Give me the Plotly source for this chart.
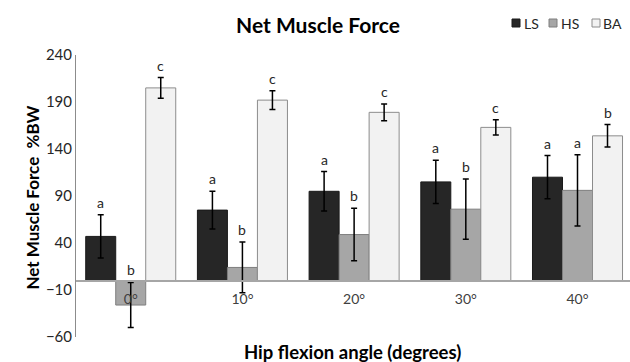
import plotly.graph_objects as go

categories = ["0°", "10°", "20°", "30°", "40°"]
series_names = ["LS", "HS", "BA"]
ls_values = [47, 75, 95, 105, 110]
ls_errors = [23, 20, 21, 23, 23]
hs_values = [-26, 14, 49, 76, 96]
hs_errors = [24, 27, 28, 32, 38]
ba_values = [205, 192, 179, 163, 154]
ba_errors = [11, 10, 9, 8, 12]
ls_letters = ["a", "a", "a", "a", "a"]
hs_letters = ["b", "b", "b", "b", "a"]
ba_letters = ["c", "c", "c", "c", "b"]
y_ticks = [-60, -10, 40, 90, 140, 190, 240]

FONT = "Lato"
W, H = 630, 362
L, R, T, B = 76, 0, 55, 25
PW, PH = W - L - R, H - T - B
fills = ["#262626", "#a6a6a6", "#f2f2f2"]
borders = ["#1a1a1a", "#7f7f7f", "#8c8c8c"]
values = [ls_values, hs_values, ba_values]
errors = [ls_errors, hs_errors, ba_errors]
letters = [ls_letters, hs_letters, ba_letters]


def px(x):
    return (x - L) / PW


def py(y):
    return (H - B - y) / PH


x_idx = list(range(len(categories)))
fig = go.Figure()
for k, name in enumerate(series_names):
    fig.add_trace(go.Bar(
        x=x_idx, y=values[k], name=name,
        marker=dict(color=fills[k], line=dict(color=borders[k], width=1)),
        error_y=dict(type="data", array=errors[k], visible=True,
                     color="#000000", thickness=1.5, width=3),
    ))

bar_w = 0.2686
offsets = [-bar_w, 0, bar_w]
for k in range(3):
    for i in x_idx:
        top = values[k][i] + errors[k][i]
        fig.add_annotation(x=i + offsets[k], y=top, xref="x", yref="y",
                           text=letters[k][i], showarrow=False,
                           yanchor="bottom", yshift=2,
                           font=dict(family=FONT, size=14, color="#262626"))

# manual legend (compact, like the reference)
leg_sq_x = [512, 549, 592]
leg_tx_x = [522, 559, 601]
for k, name in enumerate(series_names):
    fig.add_shape(type="rect", xref="paper", yref="paper",
                  x0=px(leg_sq_x[k]), x1=px(leg_sq_x[k] + 8),
                  y0=py(27), y1=py(19),
                  fillcolor=fills[k], line=dict(color=borders[k], width=1))
    fig.add_annotation(x=px(leg_tx_x[k]), y=py(23), xref="paper", yref="paper",
                       text=name, showarrow=False, xanchor="left", yanchor="middle",
                       font=dict(family=FONT, size=14, color="#262626"))

fig.add_annotation(x=px(352), y=py(352), xref="paper", yref="paper",
                   text="<b>Hip flexion angle (degrees)</b>", showarrow=False,
                   yanchor="middle", font=dict(family=FONT, size=18.5, color="#000000"))
fig.add_annotation(x=px(19), y=py(198), xref="paper", yref="paper",
                   text="<b>Net Muscle Force  %BW</b>", showarrow=False,
                   textangle=-90, font=dict(family=FONT, size=17, color="#000000"))

fig.update_layout(
    width=W, height=H,
    margin=dict(l=L, r=R, t=T, b=B, autoexpand=False),
    paper_bgcolor="white", plot_bgcolor="white",
    barmode="group", bargap=0.194, bargroupgap=0,
    title=dict(text="<b>Net Muscle Force</b>", x=318 / W, xref="container",
               y=1 - 26 / H, yref="container", xanchor="center", yanchor="middle",
               font=dict(family=FONT, size=21, color="#000000")),
    font=dict(family=FONT),
    showlegend=False,
)
fig.update_xaxes(type="linear", range=[-0.49, 4.47], tickvals=x_idx, ticktext=categories,
                 anchor="free", position=0.2, showline=True, linecolor="#a6a6a6",
                 linewidth=1.5, showgrid=False, zeroline=False, ticks="",
                 ticklabelstandoff=6,
                 tickfont=dict(family=FONT, size=14, color="#404040"))
fig.update_yaxes(range=[-60, 240], tickvals=y_ticks, showline=True,
                 linecolor="#8c8c8c", linewidth=1, showgrid=False, zeroline=False,
                 ticks="", tickfont=dict(family=FONT, size=15, color="#262626"))

fig.write_html("out.html", config={"displayModeBar": False},
               post_script="document.body.style.margin='0px';document.body.style.overflow='hidden';")
